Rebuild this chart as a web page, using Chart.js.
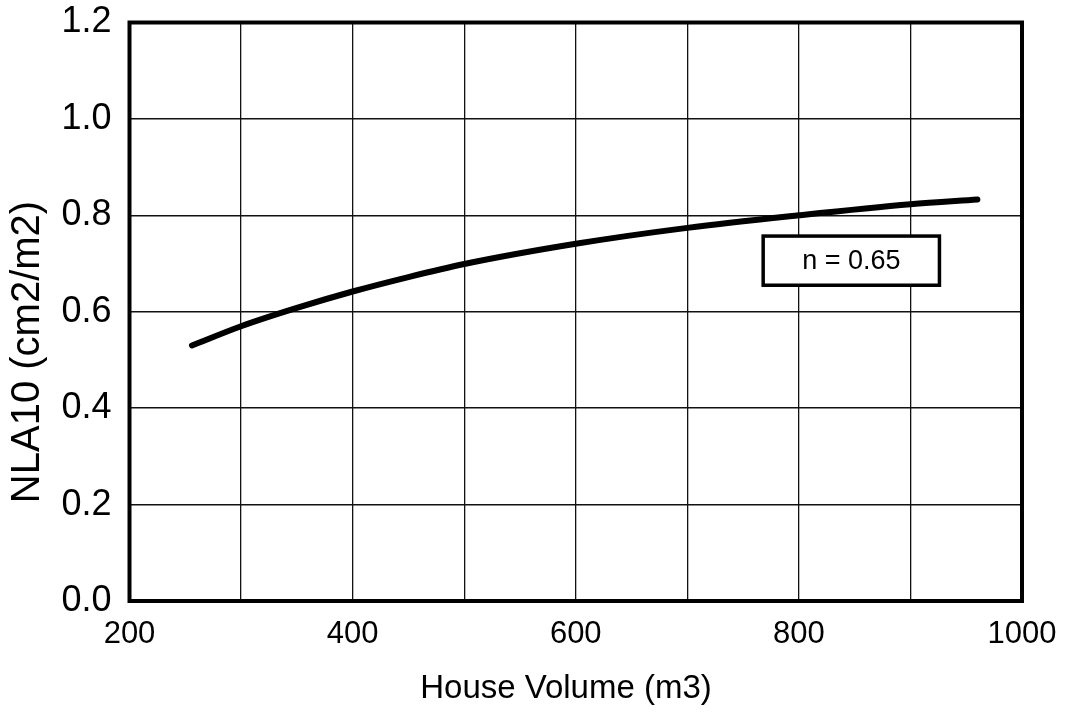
<!DOCTYPE html>
<html>
<head>
<meta charset="utf-8">
<script src="https://cdn.jsdelivr.net/npm/chart.js@4.4.1/dist/chart.umd.min.js"></script>
<style>
    html, body { margin: 0; padding: 0; background: #fff; }
    #wrap { width: 1065px; height: 714px; }
</style>
</head>
<body>
<div id="wrap"><canvas id="nlaChart" width="1065" height="714"></canvas></div>
<script>
// Values
const houseVolume = [256, 300, 350, 400, 450, 500, 600, 700, 800, 900, 960];
const nla10 = [0.53, 0.57, 0.608, 0.642, 0.672, 0.699, 0.741, 0.774, 0.80, 0.823, 0.833];

const xTicks = [200, 300, 400, 500, 600, 700, 800, 900, 1000];
const xTickLabels = ['200', '', '400', '', '600', '', '800', '', '1000'];
const yTicks = [0, 0.2, 0.4, 0.6, 0.8, 1.0, 1.2];
const yTickLabels = ['0.0', '0.2', '0.4', '0.6', '0.8', '1.0', '1.2'];

const xTitle = 'House Volume (m3)';
const yTitle = 'NLA10 (cm2/m2)';
const noteText = 'n = 0.65';

const FONT = '"Liberation Sans", Arial, Helvetica, sans-serif';

/**
 * Frame round the plot area (all four sides, thick)
 */
const framePlugin = {
    id: 'frame',
    beforeDatasetsDraw(chart) {
        const { ctx, chartArea: a } = chart;
        ctx.save();
        ctx.strokeStyle = '#000';
        ctx.lineWidth = 4;
        ctx.strokeRect(a.left, a.top, a.right - a.left, a.bottom - a.top);
        ctx.restore();
    }
};

/**
 * "n = 0.65" note box, placed in data units
 */
const notePlugin = {
    id: 'noteBox',
    afterDatasetsDraw(chart) {
        const { ctx, scales } = chart;
        const x1 = scales.x.getPixelForValue(768);
        const x2 = scales.x.getPixelForValue(926);
        const y1 = scales.y.getPixelForValue(0.757);
        const y2 = scales.y.getPixelForValue(0.655);
        ctx.save();
        ctx.fillStyle = '#fff';
        ctx.fillRect(x1, y1, x2 - x1, y2 - y1);
        ctx.strokeStyle = '#000';
        ctx.lineWidth = 3.5;
        ctx.strokeRect(x1, y1, x2 - x1, y2 - y1);
        ctx.fillStyle = '#000';
        ctx.font = '27px ' + FONT;
        ctx.textAlign = 'center';
        ctx.textBaseline = 'middle';
        ctx.fillText(noteText, (x1 + x2) / 2, (y1 + y2) / 2 + 1);
        ctx.restore();
    }
};

/**
 * Axis titles, placed slightly off-centre as in the original
 */
const axisTitlePlugin = {
    id: 'axisTitles',
    afterDraw(chart) {
        const { ctx } = chart;
        ctx.save();
        ctx.fillStyle = '#000';
        ctx.textAlign = 'center';
        ctx.textBaseline = 'middle';

        ctx.font = '33px ' + FONT;
        ctx.fillText(xTitle, 566, 689);

        ctx.translate(28, 352);
        ctx.rotate(-Math.PI / 2);
        ctx.font = '40px ' + FONT;
        ctx.fillText(yTitle, 0, 0);
        ctx.restore();
    }
};

new Chart(document.getElementById('nlaChart'), {
    type: 'line',
    data: {
        datasets: [{
            data: houseVolume.map((v, i) => ({ x: v, y: nla10[i] })),
            borderColor: '#000',
            borderWidth: 6,
            borderCapStyle: 'round',
            pointRadius: 0,
            cubicInterpolationMode: 'monotone',
            fill: false
        }]
    },
    options: {
        responsive: false,
        animation: false,
        layout: {
            padding: { top: 22.5, right: 43, left: 0, bottom: 0 }
        },
        plugins: {
            legend: { display: false },
            tooltip: { enabled: false }
        },
        scales: {
            x: {
                type: 'linear',
                min: 200,
                max: 1000,
                afterBuildTicks: (scale) => {
                    scale.ticks = xTicks.map(v => ({ value: v }));
                },
                afterFit: (scale) => {
                    scale.height = 113;
                    scale.paddingLeft = 0;
                    scale.paddingRight = 0;
                },
                ticks: {
                    color: '#000',
                    padding: 15,
                    maxRotation: 0,
                    autoSkip: false,
                    font: { family: FONT, size: 31 },
                    callback: (v) => xTickLabels[xTicks.indexOf(v)]
                },
                grid: { color: '#111', lineWidth: 1.3, drawTicks: false },
                border: { display: false }
            },
            y: {
                min: 0,
                max: 1.2,
                afterBuildTicks: (scale) => {
                    scale.ticks = yTicks.map(v => ({ value: v }));
                },
                afterFit: (scale) => {
                    scale.width = 129.5;
                    scale.paddingTop = 0;
                    scale.paddingBottom = 0;
                },
                ticks: {
                    color: '#000',
                    padding: 18,
                    font: { family: FONT, size: 36 },
                    callback: (v) => yTickLabels[yTicks.findIndex(t => Math.abs(t - v) < 1e-6)]
                },
                grid: { color: '#111', lineWidth: 1.6, drawTicks: false },
                border: { display: false }
            }
        }
    },
    plugins: [framePlugin, notePlugin, axisTitlePlugin]
});
</script>
</body>
</html>
